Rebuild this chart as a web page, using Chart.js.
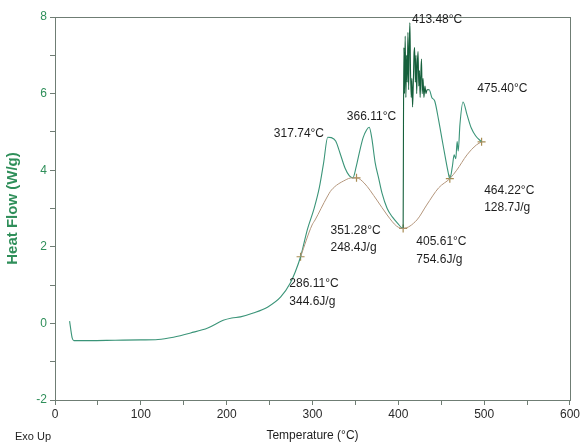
<!DOCTYPE html>
<html>
<head>
<meta charset="utf-8">
<title>DSC Heat Flow</title>
<script src="https://cdn.jsdelivr.net/npm/chart.js@4"></script>
<style>
  html, body { margin: 0; padding: 0; background: #fff; }
  #wrap { width: 582px; height: 444px; }
</style>
</head>
<body>
<div id="wrap"><canvas id="dsc"></canvas></div>
<script>
// heat flow trace (°C, W/g)
const mainTemp = [17, 20, 22, 40, 70, 100, 120, 138, 158, 178, 196, 206, 216, 231, 248, 263, 274, 280, 286.11,
  294, 302, 308, 313, 317.74, 322, 327, 332, 338, 343, 347, 351, 355, 359, 363, 366.11, 369, 373, 377, 381, 387,
  393, 399, 405.61, 406.0, 406.5, 407.2, 408.0, 408.8, 409.6, 410.4, 411.2, 412.0, 412.8, 413.48, 414.2, 415.0,
  415.8, 416.6, 417.4, 418.2, 419.0, 419.8, 420.6, 421.4, 422.2, 423.0, 423.8, 424.6, 425.4, 426.2, 427.0, 427.8,
  428.8, 429.8, 431.0, 432.2, 433.5, 436, 439, 442.5, 447, 451, 455, 458, 460, 463, 465, 467, 468.5, 469.8, 471.8,
  475.40, 480, 485, 490, 497];
const mainFlow = [0.06, -0.38, -0.45, -0.45, -0.44, -0.43, -0.42, -0.36, -0.25, -0.12, 0.08, 0.14, 0.17, 0.27,
  0.43, 0.69, 1.05, 1.35, 1.74, 2.45, 3.01, 3.55, 4.2, 4.86, 4.85, 4.76, 4.45, 4.05, 3.85, 3.8, 4.1, 4.5, 4.85,
  5.05, 5.12, 4.85, 4.2, 3.8, 3.4, 3.0, 2.78, 2.62, 2.48, 5.2, 7.2, 6.0, 7.5, 5.9, 7.0, 6.3, 7.6, 6.1, 7.3, 7.85,
  6.6, 5.9, 6.4, 5.65, 6.2, 7.0, 7.2, 6.3, 7.0, 6.0, 6.8, 7.1, 6.2, 6.6, 5.9, 6.5, 6.9, 6.0, 6.4, 5.9, 6.2, 6.0,
  6.1, 6.1, 5.9, 5.8, 5.3, 4.8, 4.3, 3.95, 3.78, 4.1, 4.4, 4.3, 4.75, 4.5, 5.2, 5.78, 5.45, 5.1, 4.9, 4.74];

// integration baselines
const baseTemp = [286.11, 299.5, 303, 317, 322, 338, 346, 351.28, 360, 375, 387, 398, 405.61, 421.6, 433, 447,
  460, 468, 480, 491, 497];
const baseFlow = [1.74, 2.57, 2.7, 3.3, 3.48, 3.74, 3.8, 3.8, 3.67, 3.22, 2.83, 2.54, 2.48, 2.7, 3.09, 3.54,
  3.78, 4.0, 4.4, 4.66, 4.74];

// baseline end markers
const markTemp = [286.11, 351.28, 405.61, 460, 497];
const markFlow = [1.74, 3.8, 2.48, 3.78, 4.74];

// peak / integration labels, anchored at (°C, W/g)
const noteText = ['413.48°C', '475.40°C', '366.11°C', '317.74°C', '351.28°C', '248.4J/g',
  '405.61°C', '754.6J/g', '464.22°C', '128.7J/g', '286.11°C', '344.6J/g'];
const noteTemp = [416, 492, 340, 255, 321, 321, 421, 421, 500, 500, 273, 273];
const noteFlow = [7.92, 6.12, 5.39, 4.95, 2.42, 1.98, 2.14, 1.67, 3.46, 3.02, 1.04, 0.57];

const xy = (xs, ys) => xs.map((x, i) => ({ x: x, y: ys[i] }));

const FONT = '"Liberation Sans", Arial, sans-serif';
const GREEN = '#2f8f5a';
const AXIS = '#6f7d74';

const framePlugin = {
  id: 'frame',
  afterDraw(chart) {
    const { ctx, chartArea: a, scales } = chart;
    ctx.save();
    ctx.strokeStyle = AXIS;
    ctx.lineWidth = 1;
    ctx.strokeRect(Math.round(a.left) + 0.5, Math.round(a.top) + 0.5,
      Math.round(a.right - a.left), Math.round(a.bottom - a.top));

    ctx.fillStyle = '#1e1e1e';
    ctx.font = '12px ' + FONT;
    ctx.textBaseline = 'middle';
    ctx.textAlign = 'left';
    noteText.forEach((t, i) => {
      ctx.fillText(t, scales.x.getPixelForValue(noteTemp[i]), scales.y.getPixelForValue(noteFlow[i]));
    });

    ctx.font = '11px ' + FONT;
    ctx.fillText('Exo Up', 15, 437);
    ctx.restore();
  }
};

new Chart(document.getElementById('dsc'), {
  type: 'scatter',
  data: {
    datasets: [
      {
        data: xy(baseTemp, baseFlow),
        showLine: true,
        borderColor: '#b4967c',
        borderWidth: 1,
        pointRadius: 0,
        cubicInterpolationMode: 'monotone'
      },
      {
        data: xy(mainTemp, mainFlow),
        showLine: true,
        borderColor: '#3a9478',
        borderWidth: 1.1,
        pointRadius: 0,
        cubicInterpolationMode: 'monotone',
        segment: {
          borderColor: c => (c.p0.parsed.x >= 405 && c.p1.parsed.x <= 436) ? '#16603c' : undefined
        }
      },
      {
        data: xy(markTemp, markFlow),
        pointStyle: 'cross',
        pointRadius: 4,
        borderColor: '#a88c52',
        borderWidth: 1.2,
        backgroundColor: '#a88c52'
      }
    ]
  },
  options: {
    responsive: true,
    maintainAspectRatio: false,
    animation: false,
    events: [],
    layout: { padding: { top: 17, right: 11, left: 0, bottom: 0 } },
    plugins: { legend: { display: false }, tooltip: { enabled: false } },
    scales: {
      x: {
        type: 'linear',
        min: 0,
        max: 600,
        afterFit: s => { s.height = 44; },
        border: { color: AXIS },
        grid: { drawOnChartArea: false, tickLength: 5, color: AXIS },
        ticks: {
          stepSize: 50,
          autoSkip: false,
          maxRotation: 0,
          padding: 2,
          color: '#2a2a2a',
          font: { family: FONT, size: 12 },
          callback: v => (v % 100 === 0 ? v : '')
        },
        title: {
          display: true,
          text: 'Temperature (°C)',
          color: '#1e1e1e',
          font: { family: FONT, size: 12 },
          padding: { top: 0, bottom: 1 }
        }
      },
      y: {
        type: 'linear',
        min: -2,
        max: 8,
        afterFit: s => { s.width = 55; },
        border: { color: AXIS },
        grid: { drawOnChartArea: false, tickLength: 5, color: AXIS },
        ticks: {
          stepSize: 1,
          autoSkip: false,
          padding: 3,
          color: GREEN,
          font: { family: FONT, size: 12 },
          callback: v => (v % 2 === 0 ? v : '')
        },
        title: {
          display: true,
          text: 'Heat Flow (W/g)',
          color: GREEN,
          font: { family: FONT, size: 15, weight: 'bold' },
          padding: { top: 4, bottom: 0 }
        }
      }
    }
  },
  plugins: [framePlugin]
});
</script>
</body>
</html>
